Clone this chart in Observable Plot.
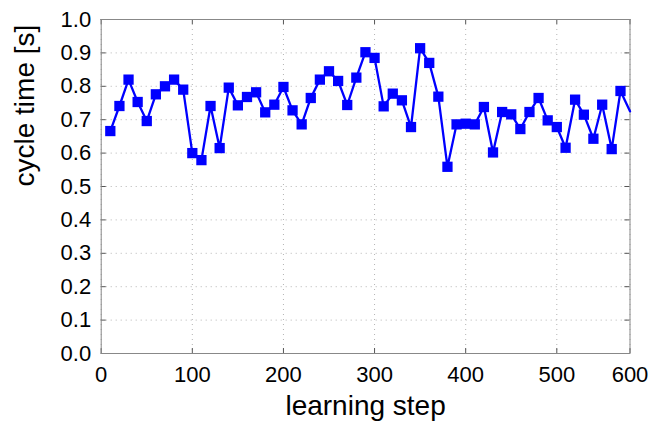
<!DOCTYPE html>
<html><head><meta charset="utf-8">
<script src="https://cdn.jsdelivr.net/npm/d3@7"></script>
<script src="https://cdn.jsdelivr.net/npm/@observablehq/plot@0.6"></script>
<style>body{margin:0;background:#fff}</style>
</head><body><div id="chart"></div>
<script>
const steps = [10, 20, 30, 40, 50, 60, 70, 80, 90, 100,
  110, 120, 130, 140, 150, 160, 170, 180, 190, 200,
  210, 220, 230, 240, 250, 260, 270, 280, 290, 300,
  310, 320, 330, 340, 350, 360, 370, 380, 390, 400,
  410, 420, 430, 440, 450, 460, 470, 480, 490, 500,
  512, 525, 537, 550, 562, 575, 587, 600];
const cycleTime = [0.666, 0.741, 0.820, 0.753, 0.696, 0.776, 0.800, 0.820, 0.790, 0.600,
  0.579, 0.741, 0.615, 0.796, 0.743, 0.768, 0.782, 0.722, 0.745, 0.798,
  0.728, 0.686, 0.765, 0.820, 0.845, 0.816, 0.744, 0.826, 0.902, 0.885,
  0.740, 0.778, 0.758, 0.678, 0.914, 0.870, 0.769, 0.559, 0.686, 0.688,
  0.686, 0.738, 0.602, 0.723, 0.716, 0.672, 0.723, 0.765, 0.698, 0.678,
  0.616, 0.760, 0.715, 0.643, 0.745, 0.612, 0.786, 0.725];
const xTicks = [0, 100, 200, 300, 400, 500, 600];
const yTicks = [0, 0.1, 0.2, 0.3, 0.4, 0.5, 0.6, 0.7, 0.8, 0.9, 1.0];
const xLabel = "learning step";
const yLabel = "cycle time [s]";

const data = steps.map((s, i) => ({step: s, t: cycleTime[i]}));
const markers = data.filter(d => d.step < 600);

const chart = Plot.plot({
  width: 652,
  height: 425,
  marginLeft: 100.7,
  marginRight: 22.5,
  marginTop: 19,
  marginBottom: 72,
  style: {fontFamily: "'Liberation Sans', Arial, sans-serif", background: "#fff", color: "#000"},
  x: {type: "linear", domain: [0, 500, 600], range: [100.7, 556.3, 629.5]},
  y: {type: "linear", domain: [0, 1]},
  marks: [
    Plot.gridX(xTicks, {stroke: "#b4b4b4", strokeOpacity: 1, strokeDasharray: "1,4"}),
    Plot.gridY(yTicks, {stroke: "#b4b4b4", strokeOpacity: 1, strokeDasharray: "1,4"}),
    Plot.ruleX(xTicks, {y1: 0, y2: 0.015, stroke: "#555"}),
    Plot.ruleX(xTicks, {y1: 1, y2: 0.985, stroke: "#555"}),
    Plot.ruleY(yTicks, {x1: 0, x2: 5.5, stroke: "#555"}),
    Plot.ruleY(yTicks, {x1: 600, x2: 593, stroke: "#555"}),
    Plot.frame({stroke: "#888"}),
    Plot.axisX(xTicks, {tickSize: 0, tickPadding: 13, fontSize: 22, label: null, tickFormat: d => String(d)}),
    Plot.axisY(yTicks, {tickSize: 0, tickPadding: 10, fontSize: 22, label: null, tickFormat: d3.format(".1f")}),
    Plot.text([xLabel], {frameAnchor: "bottom", dy: 61, fontSize: 28, text: d => d}),
    Plot.text([yLabel], {frameAnchor: "left", dx: -76, rotate: -90, fontSize: 28, text: d => d}),
    Plot.line(data, {x: "step", y: "t", stroke: "#0000ff", strokeWidth: 2.3}),
    Plot.dot(markers, {x: "step", y: "t", symbol: "square", r: 5.8, fill: "#0000ff"})
  ]
});
document.getElementById("chart").appendChild(chart);
</script></body></html>
